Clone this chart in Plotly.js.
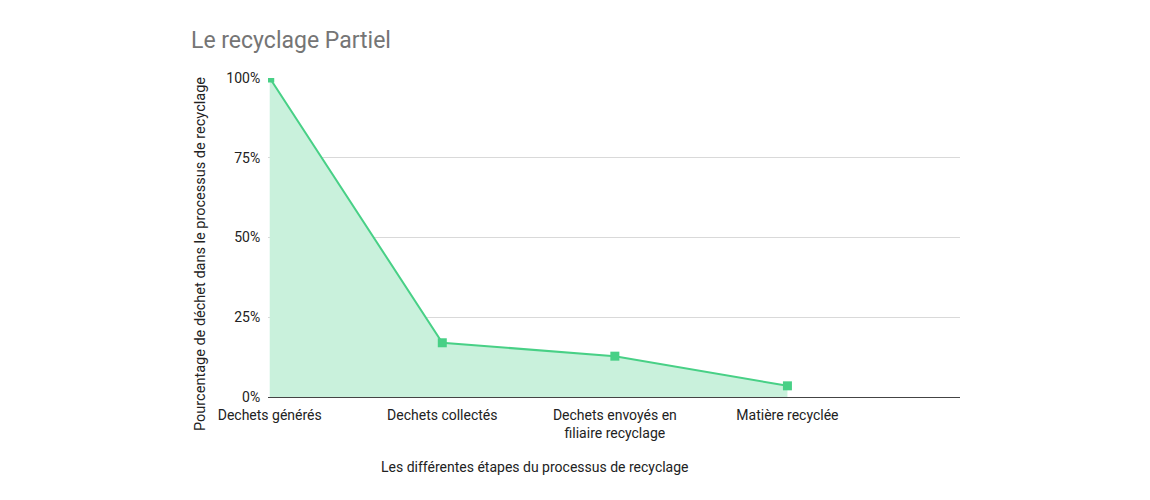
<!DOCTYPE html>
<html>
<head>
<meta charset="utf-8">
<script src="https://cdn.plot.ly/plotly-3.0.1.min.js"></script>
<style>html,body{margin:0;padding:0;background:#fff;}#chart{width:1150px;height:500px;}</style>
</head>
<body>
<div id="chart"></div>
<script>
const categories = ["Dechets générés", "Dechets collectés", "Dechets envoyés en<br>filiaire recyclage", "Matière recyclée"];
const positions = [0, 1, 2, 3];
const values = [1.0, 0.17, 0.128, 0.035];
const yTicks = [0, 0.25, 0.5, 0.75, 1];
const yTickLabels = ["0%", "25%", "50%", "75%", "100%"];

const trace = {
  x: positions,
  y: values,
  type: 'scatter',
  mode: 'lines+markers',
  fill: 'tozeroy',
  fillcolor: '#c9f1dc',
  line: {color: '#48d086', width: 2},
  marker: {symbol: 'square', size: 9, color: '#48d086'},
  cliponaxis: true,
  hoverinfo: 'none'
};

const layout = {
  width: 1150, height: 500,
  paper_bgcolor: '#fff', plot_bgcolor: '#fff',
  margin: {l: 268, r: 190, t: 78, b: 103},
  font: {family: 'Roboto, Arial, sans-serif', color: '#222', size: 14},
  title: {text: 'Le recyclage Partiel', x: 191/1150, xanchor: 'left', y: 1 - 40/500, yanchor: 'middle', yref: 'container',
          font: {size: 23, color: '#757575', family: 'Roboto, Arial, sans-serif'}},
  showlegend: false,
  xaxis: {
    range: [-0.01, 4], tickvals: positions, ticktext: categories,
    showgrid: false, zeroline: false, showline: true, linecolor: '#444', linewidth: 1,
    ticks: 'outside', ticklen: 5, tickcolor: 'rgba(0,0,0,0)',
    tickfont: {size: 14, color: '#222'}, fixedrange: true
  },
  yaxis: {
    range: [0, 1], tickvals: yTicks, ticktext: yTickLabels,
    showgrid: true, gridcolor: '#d9d9d9', zeroline: false, showline: false,
    ticks: 'outside', ticklen: 4, tickcolor: 'rgba(0,0,0,0)',
    tickfont: {size: 14, color: '#222'}
  },
  annotations: [{
    text: 'Les différentes étapes du processus de recyclage',
    xref: 'paper', yref: 'paper', x: (535-268)/692, y: -(467-397)/319,
    xanchor: 'center', yanchor: 'middle', showarrow: false,
    font: {size: 14, color: '#222'}
  }, {
    text: 'Pourcentage de déchet dans le processus de recyclage',
    xref: 'paper', yref: 'paper', x: (200-268)/692, y: (397-254)/319,
    xanchor: 'center', yanchor: 'middle', showarrow: false, textangle: -90,
    font: {size: 14.5, color: '#222'}
  }]
};

Plotly.newPlot('chart', [trace], layout, {displayModeBar: false, staticPlot: true});
</script>
</body>
</html>
